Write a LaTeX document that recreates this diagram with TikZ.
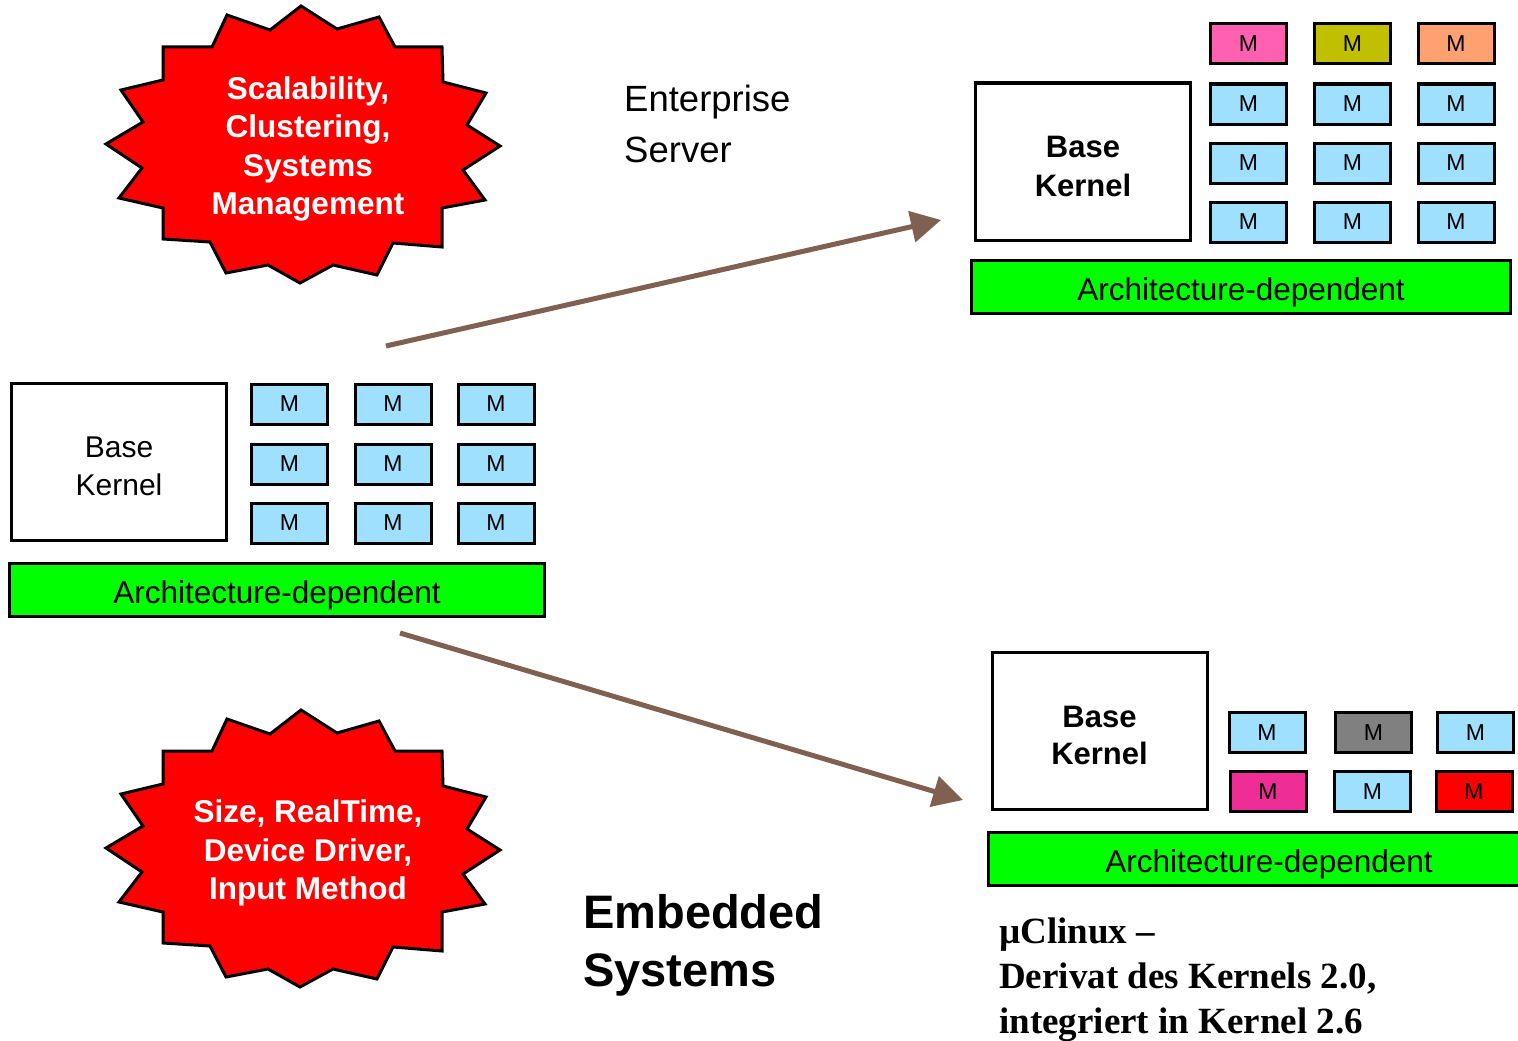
\documentclass[tikz,border=0pt]{standalone}
\usepackage{fontspec}
\setmainfont{Liberation Sans}
\newfontfamily\serifbold{Liberation Serif}
\usepackage{tikz}
\usetikzlibrary{arrows.meta}
\definecolor{modblue}{HTML}{A0E0FF}
\definecolor{modpink}{HTML}{FF60B0}
\definecolor{modolive}{HTML}{C0C000}
\definecolor{modsalmon}{HTML}{FFA070}
\definecolor{modgray}{HTML}{808080}
\definecolor{modmagenta}{HTML}{EE2E96}
\definecolor{archgreen}{HTML}{00FF00}
\definecolor{arrowbrown}{HTML}{806050}

\begin{document}
\begin{tikzpicture}[x=1pt,y=-1pt,
    modbox/.style={draw=black,fill=modblue,line width=3pt,minimum width=76pt,minimum height=40pt,inner sep=0pt,font=\fontsize{23}{26}\selectfont},
    kernel/.style={draw=black,fill=white,line width=3pt,minimum width=215pt,minimum height=157pt,inner sep=0pt,align=center,text height=68pt,text depth=0pt},
    archbar/.style={draw=black,fill=archgreen,line width=3pt,minimum height=53pt,inner sep=0pt,text height=27.6pt,text depth=0pt,font=\fontsize{31.5}{36}\selectfont},
    burst/.style={draw=black,fill=red,line width=3pt,line join=miter},
    bursttext/.style={text=white,align=center,font=\bfseries\fontsize{31.5}{38.5}\selectfont},
    flow/.style={draw=arrowbrown,line width=5pt,-{Triangle[length=30pt,width=31pt]}}]
\useasboundingbox (0,0) rectangle (1518,1041);
%% the two red bursts
\foreach \sy in {0,704}
  \draw[burst,shift={(0,\sy)}] (301,6) -- (337,29) -- (379,17) -- (395,47) -- (442,47) -- (443,82)
     -- (486,93) -- (467,125) -- (500,146) -- (463,170) -- (485,200) -- (442,208) -- (442,247)
     -- (393,243) -- (377,275) -- (333,265) -- (300,283) -- (268,265) -- (226,273) -- (210,242)
     -- (163,239) -- (163,208) -- (119,198) -- (142,168) -- (106,144) -- (143,122) -- (121,90)
     -- (163,80) -- (163,47) -- (212,47) -- (227,15) -- (270,30) -- cycle;
\node[bursttext] (scale) at (308,149) {Scalability,\\Clustering,\\Systems\\Management};
\node[bursttext] (embed) at (308,853) {Size, RealTime,\\Device Driver,\\Input Method};
%% headings
\node[anchor=west,inner sep=0pt,align=left,font=\fontsize{36.5}{51}\selectfont] (server) at (624,124) {Enterprise\\Server};
\node[anchor=west,inner sep=0pt,align=left,font=\bfseries\fontsize{47}{58}\selectfont] (embsys) at (583,945) {Embedded\\Systems};
\node[anchor=north west,inner sep=0pt,align=left,font=\serifbold\bfseries\fontsize{37}{45}\selectfont] (uclinux) at (999,918) {µClinux \textendash\\Derivat des Kernels 2.0,\\integriert in Kernel 2.6};
%% generic kernel, left
\node[kernel,font=\fontsize{30}{38}\selectfont] (lbase) at (119,461.5) {Base\\Kernel};
\foreach \c/\x in {1/289.5,2/393,3/496}
  \foreach \r/\y in {1/404,2/464,3/523}
    \node[modbox] (lm\r\c) at (\x,\y) {M};
\node[archbar,minimum width=535pt] (larch) at (277,589.5) {Architecture-dependent};
%% enterprise server, top right
\node[kernel,text height=69pt,font=\bfseries\fontsize{31}{39}\selectfont] (tbase) at (1083,161.5) {Base\\Kernel};
\node[modbox,fill=modpink] (tm11) at (1248.5,43.5) {M};
\node[modbox,fill=modolive] (tm12) at (1352.5,43.5) {M};
\node[modbox,fill=modsalmon] (tm13) at (1456,43.5) {M};
\foreach \c/\x in {1/1248.5,2/1352.5,3/1456}
  \foreach \r/\y in {2/104,3/163,4/222}
    \node[modbox] (tm\r\c) at (\x,\y) {M};
\node[archbar,minimum width=539pt] (tarch) at (1241,287) {Architecture-dependent};
%% embedded, bottom right
\node[kernel,text height=66pt,font=\bfseries\fontsize{31}{37}\selectfont] (bbase) at (1099.5,731) {Base\\Kernel};
\node[modbox] (bm11) at (1267,732.5) {M};
\node[modbox,fill=modgray] (bm12) at (1373.5,732.5) {M};
\node[modbox] (bm13) at (1475.5,732.5) {M};
\node[modbox,fill=modmagenta] (bm21) at (1268,791.5) {M};
\node[modbox] (bm22) at (1372.5,791.5) {M};
\node[modbox,fill=red] (bm23) at (1474,791.5) {M};
\node[archbar,minimum width=561pt] (barch) at (1269,858.5) {Architecture-dependent};
%% arrows
\coordinate (upfrom) at (386,346);
\coordinate (upto) at (941,220);
\coordinate (downfrom) at (400,633);
\coordinate (downto) at (963,800);
\draw[flow] (upfrom) -- (upto);
\draw[flow] (downfrom) -- (downto);
\end{tikzpicture}
\end{document}
